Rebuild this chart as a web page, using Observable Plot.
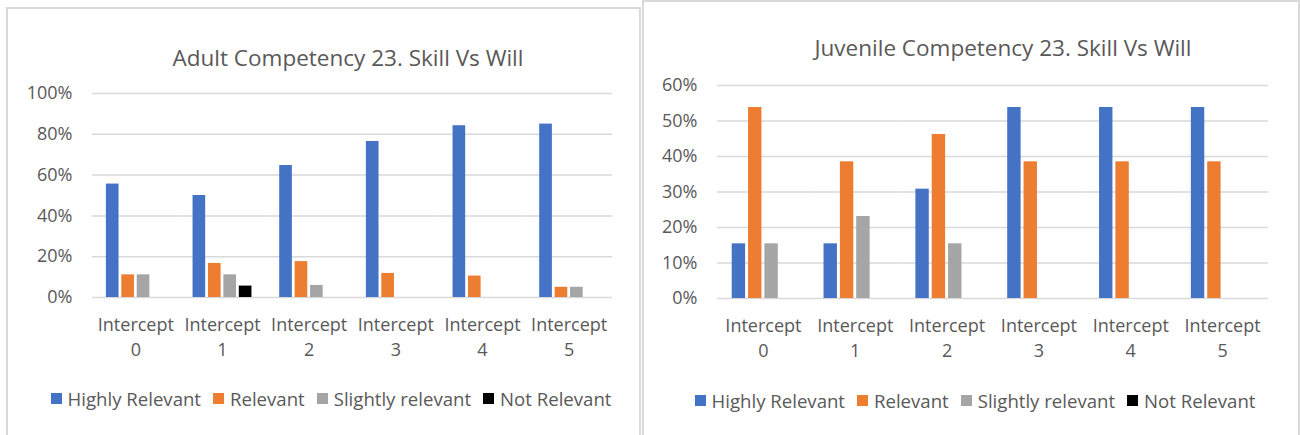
<!DOCTYPE html>
<html>
<head>
<meta charset="utf-8">
<script src="https://cdn.jsdelivr.net/npm/d3@7"></script>
<script src="https://cdn.jsdelivr.net/npm/@observablehq/plot@0.6"></script>
<style>
  html, body { margin: 0; padding: 0; background: #fff; }
  body { width: 1300px; height: 435px; position: relative; overflow: hidden; font-family: "Open Sans", sans-serif; color: #595959; }
  .box { position: absolute; border: 2px solid #d9d9d9; box-sizing: border-box; }
  .title { position: absolute; white-space: nowrap; font-size: 22.5px; transform: translate(-50%, -50%); }
  .plot { position: absolute; }
  .legend { position: absolute; display: flex; justify-content: center; align-items: center; font-size: 18.6px; white-space: nowrap; }
  .legend .item { display: flex; align-items: center; margin: 0 6px; }
  .legend .sw { width: 11px; height: 11px; margin-right: 6px; }
</style>
</head>
<body>
<div class="box" style="left:6px; top:7px; width:635px; height:440px;"></div>
<div class="box" style="left:642px; top:0px; width:658px; height:440px;"></div>
<div class="title" style="left:348px; top:57px;">Adult Competency 23. Skill Vs Will</div>
<div class="title" style="left:1003px; top:47px;">Juvenile Competency 23. Skill Vs Will</div>
<div class="plot" id="left" style="left:0px; top:80px;"></div>
<div class="plot" id="right" style="left:650px; top:72px;"></div>
<div class="legend" id="legLeft" style="left:0px; width:662px; top:388px; height:20px;"></div>
<div class="legend" id="legRight" style="left:650px; width:650px; top:390px; height:20px;"></div>
<script>
const intercepts = ["Intercept 0", "Intercept 1", "Intercept 2", "Intercept 3", "Intercept 4", "Intercept 5"];
const series = ["Highly Relevant", "Relevant", "Slightly relevant", "Not Relevant"];
const colors = ["#4472C4", "#ED7D31", "#A5A5A5", "#000000"];

const adultHighly   = [0.556, 0.500, 0.647, 0.765, 0.842, 0.850];
const adultRelevant = [0.111, 0.167, 0.176, 0.118, 0.105, 0.050];
const adultSlightly = [0.111, 0.111, 0.059, 0.000, 0.000, 0.050];
const adultNot      = [0.000, 0.056, 0.000, 0.000, 0.000, 0.000];

const juvHighly   = [0.154, 0.154, 0.308, 0.538, 0.538, 0.538];
const juvRelevant = [0.538, 0.385, 0.462, 0.385, 0.385, 0.385];
const juvSlightly = [0.154, 0.231, 0.154, 0.000, 0.000, 0.000];
const juvNot      = [0.000, 0.000, 0.000, 0.000, 0.000, 0.000];

const adultTicks = [0, 0.2, 0.4, 0.6, 0.8, 1.0];
const juvTicks = [0, 0.1, 0.2, 0.3, 0.4, 0.5, 0.6];

function toRows(arrays) {
  const rows = [];
  intercepts.forEach((ic, i) => {
    series.forEach((s, j) => rows.push({intercept: ic, series: s, value: arrays[j][i]}));
  });
  return rows;
}

function chart(rows, opts) {
  return Plot.plot({
    width: opts.width,
    height: opts.height,
    marginLeft: opts.marginLeft,
    marginRight: opts.marginRight,
    marginTop: opts.marginTop,
    marginBottom: opts.marginBottom,
    style: {fontFamily: "Open Sans", fontSize: "18px", color: "#595959", background: "transparent", overflow: "visible"},
    fx: {domain: intercepts, padding: 0, label: null, round: false},
    x: {domain: series, paddingInner: 0.18, paddingOuter: 0.9, axis: null, round: false},
    y: {domain: opts.yDomain, label: null},
    color: {domain: series, range: colors},
    marks: [
      Plot.gridY(opts.ticks, {stroke: "#d9d9d9", strokeOpacity: 1, strokeWidth: 1.5}),
      Plot.barY(rows, {fx: "intercept", x: "series", y: "value", fill: "series"}),
      Plot.axisY(opts.ticks, {tickSize: 0, tickPadding: 20, tickFormat: d3.format(".0%"), fontSize: 18, fill: "#595959", label: null}),
      Plot.axisFx({anchor: "bottom", tickSize: 0, tickPadding: 16, tickFormat: d => d.replace(" ", "\n"), lineHeight: 1.39, fontSize: 18, fill: "#595959", label: null})
    ]
  });
}

document.getElementById("left").append(chart(toRows([adultHighly, adultRelevant, adultSlightly, adultNot]), {
  width: 650, height: 287, marginLeft: 92, marginRight: 38, marginTop: 13, marginBottom: 70,
  yDomain: [0, 1], ticks: adultTicks
}));
document.getElementById("right").append(chart(toRows([juvHighly, juvRelevant, juvSlightly, juvNot]), {
  width: 650, height: 296, marginLeft: 67, marginRight: 32, marginTop: 13, marginBottom: 70,
  yDomain: [0, 0.6], ticks: juvTicks
}));

function legend(el) {
  series.forEach((s, i) => {
    const item = document.createElement("div");
    item.className = "item";
    const sw = document.createElement("div");
    sw.className = "sw";
    sw.style.background = colors[i];
    const t = document.createElement("span");
    t.textContent = s;
    item.append(sw, t);
    el.append(item);
  });
}
legend(document.getElementById("legLeft"));
legend(document.getElementById("legRight"));
</script>
</body>
</html>
